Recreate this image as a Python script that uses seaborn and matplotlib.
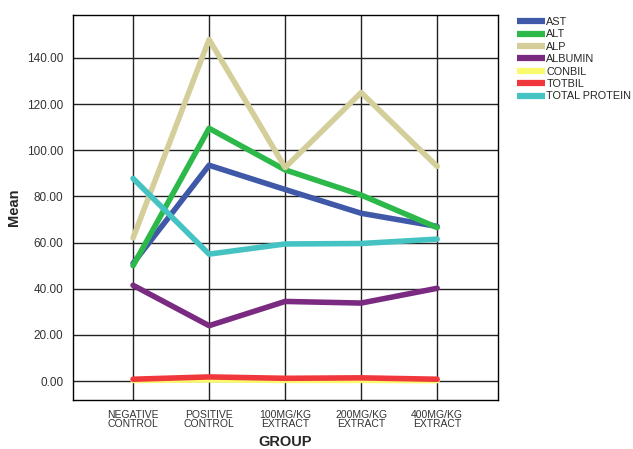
import matplotlib
matplotlib.use("Agg")
import matplotlib.pyplot as plt
import seaborn as sns
import pandas as pd

groups = ["NEGATIVE\nCONTROL", "POSITIVE\nCONTROL", "100MG/KG\nEXTRACT", "200MG/KG\nEXTRACT", "400MG/KG\nEXTRACT"]
ast = [51.0, 93.5, 83.0, 72.7, 67.0]
alt = [50.0, 109.5, 91.5, 80.6, 66.5]
alp = [62.0, 148.0, 92.5, 125.0, 93.0]
albumin = [41.5, 24.0, 34.5, 33.8, 40.2]
conbil = [0.3, 0.5, 0.3, 0.3, 0.2]
totbil = [0.8, 1.8, 1.2, 1.4, 0.8]
total_protein = [87.8, 55.0, 59.4, 59.6, 61.5]

series_names = ["AST", "ALT", "ALP", "ALBUMIN", "CONBIL", "TOTBIL", "TOTAL PROTEIN"]
series_values = [ast, alt, alp, albumin, conbil, totbil, total_protein]
colors = ["#3f58a8", "#2db84a", "#d4cf9a", "#7b2a82", "#fafa6e", "#f0373c", "#45c3c3"]

rows = []
for name, vals in zip(series_names, series_values):
    for i, v in enumerate(vals):
        rows.append({"pos": i, "group": groups[i], "series": name, "Mean": v})
df = pd.DataFrame(rows)

sns.set_style("white")
plt.rcParams["font.family"] = ["Liberation Sans", "DejaVu Sans"]

fig = plt.figure(figsize=(6.33, 4.49), dpi=100)
ax = fig.add_axes([73/633, 1-400/449, (498-73)/633, (400-15)/449])

sns.lineplot(data=df, x="pos", y="Mean", hue="series", hue_order=series_names,
             palette=colors, linewidth=4, ax=ax, legend=False, zorder=3)

ax.set_xlim(-0.79, 4.8)
ax.set_ylim(-8.2, 158.6)
ax.set_xticks(range(len(groups)))
ax.set_xticklabels(groups, fontsize=7.5, color="#333333", linespacing=0.85)
yt = [0, 20, 40, 60, 80, 100, 120, 140]
ax.set_yticks(yt)
ax.set_yticklabels([f"{v:.2f}" for v in yt], fontsize=8.5, color="#333333")
ax.grid(True, color="#222222", linewidth=1.0, zorder=0)
ax.set_axisbelow(True)
for s in ax.spines.values():
    s.set_color("black")
    s.set_linewidth(1.0)
ax.tick_params(axis="both", length=5, color="#444444", width=1, pad=2)
ax.set_xlabel("GROUP", fontsize=10.5, fontweight="bold", labelpad=5)
ax.set_ylabel("Mean", fontsize=10.5, fontweight="bold", labelpad=4)

from matplotlib.lines import Line2D
handles = [Line2D([0], [0], color=c, linewidth=4.5, solid_capstyle="butt") for c in colors]
fig.legend(handles, series_names, loc="upper left", bbox_to_anchor=(517/633, 1-17/449),
           frameon=False, fontsize=7.8, handlelength=2.6, handletextpad=0.1,
           labelspacing=0.22, borderaxespad=0, borderpad=0)

fig.savefig("out.png", dpi=100)
